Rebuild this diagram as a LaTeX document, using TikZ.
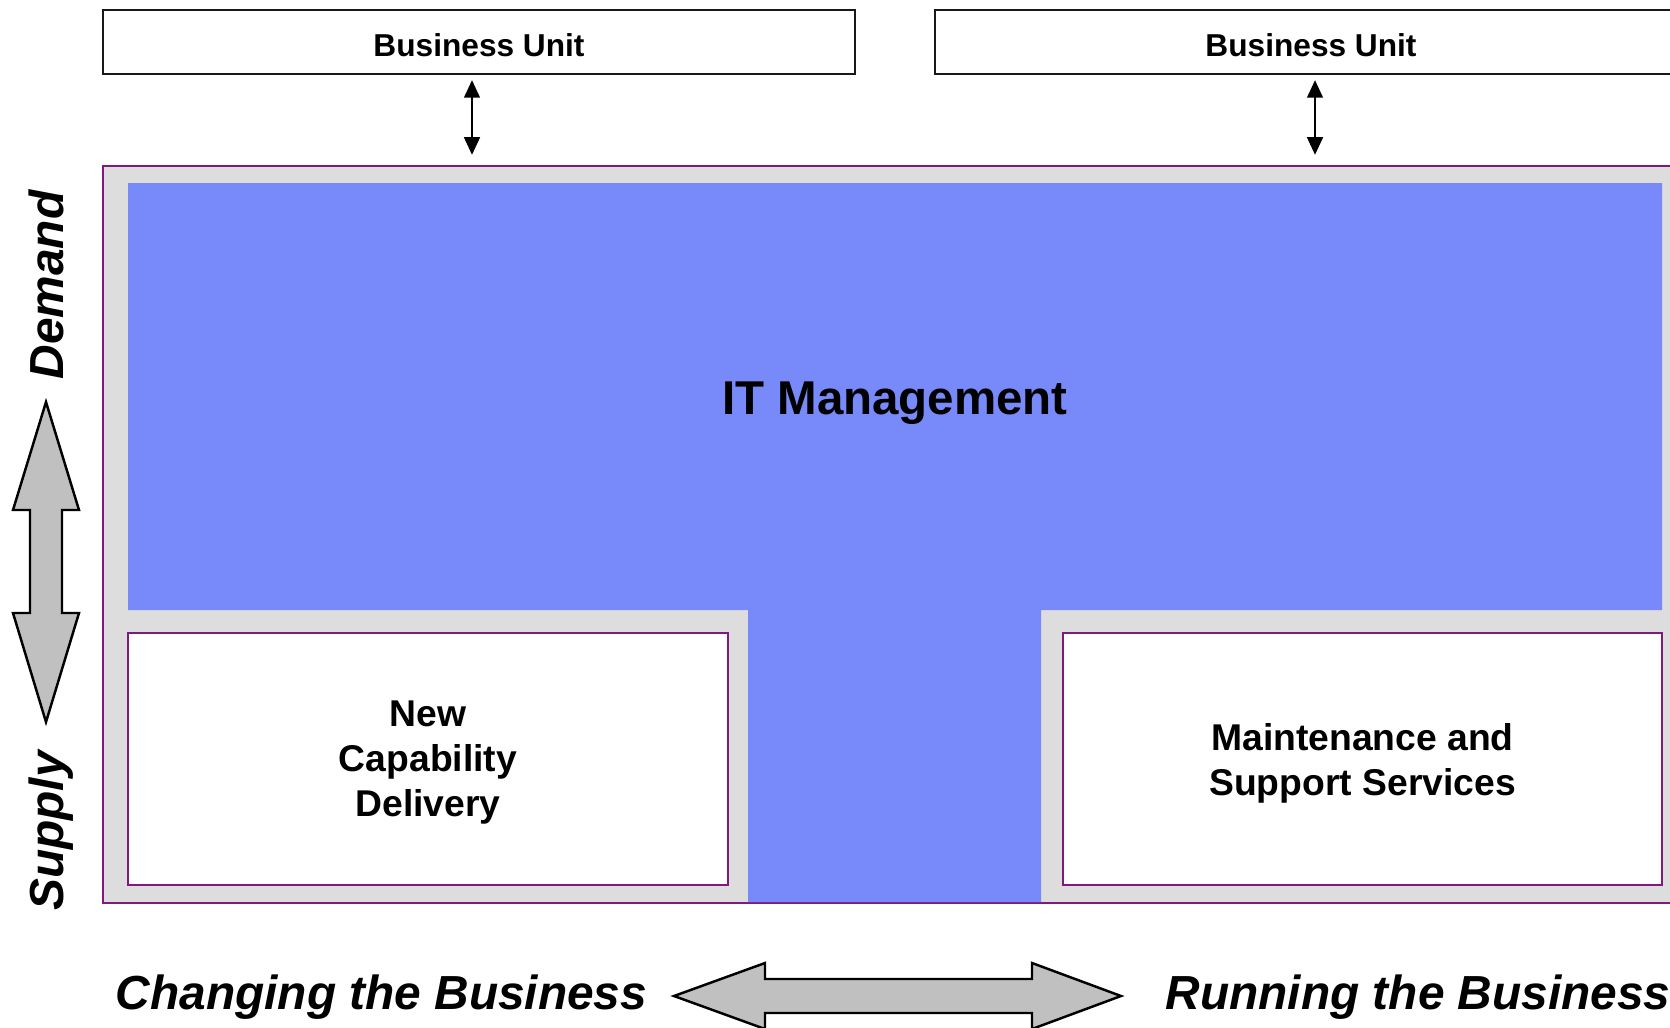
\documentclass[tikz,border=0pt]{standalone}
\usepackage{fontspec}
\setmainfont{Liberation Sans}
\usetikzlibrary{arrows.meta}

\definecolor{itblue}{RGB}{120,137,250}
\definecolor{framegray}{RGB}{221,221,221}
\definecolor{arrowgray}{RGB}{192,192,192}
\definecolor{framepurple}{RGB}{128,24,128}

\tikzset{
	unitbox/.style={draw=black!90, line width=0.65pt, fill=white, minimum width=7.52cm, minimum height=0.64cm, inner sep=0pt, text height=0.29cm, text depth=0pt, font=\fontsize{9}{11}\selectfont\bfseries},
	servicebox/.style={draw=framepurple, line width=0.6pt, fill=white, minimum height=2.52cm, inner sep=0pt, text depth=0pt, align=center, font=\fontsize{10.6}{12.8}\selectfont\bfseries},
	sidelabel/.style={inner sep=0pt, font=\fontsize{13.6}{16}\selectfont\bfseries\itshape},
	bigarrow/.style={fill=arrowgray, draw=black, line width=0.7pt},
}

\begin{document}
\begin{tikzpicture}[x=0.01cm, y=-0.01cm]
			\useasboundingbox (0,0) rectangle (1670,1027);
			%Business units
			\node[unitbox] (BU1) at (479,42) {Business Unit};
			\node[unitbox] (BU2) at (1311,42) {Business Unit};
			%Frame
			\node[draw=framepurple, fill=framegray, line width=0.55pt, minimum width=15.84cm, minimum height=7.37cm, inner sep=0pt] (frame) at (895,534.5) {};
			\draw[<->, >={Triangle[length=5pt,width=4.5pt]}, line width=0.55pt, shorten <=0.05cm, shorten >=0.1cm] ([xshift=-0.07cm]BU1.south) -- ([xshift=-0.07cm]BU1.south |- frame.north);
			\draw[<->, >={Triangle[length=5pt,width=4.5pt]}, line width=0.55pt, shorten <=0.05cm, shorten >=0.1cm] ([xshift=0.04cm]BU2.south) -- ([xshift=0.04cm]BU2.south |- frame.north);
			%IT Management
			\path[fill=itblue] (128,183) -- (1662,183) -- (1662,610) -- (1041,610) -- (1041,902) -- (748,902) -- (748,610) -- (128,610) -- cycle;
			\node[anchor=base, font=\fontsize{13.5}{16}\selectfont\bfseries] (IT) at (895,414) {IT Management};
			%Services
			\node[servicebox, minimum width=6cm] (NCD) at (428,759) {New\\Capability\\Delivery};
			\node[servicebox, minimum width=5.99cm] (MSS) at (1362.5,759) {Maintenance and\\Support Services};
			%Demand and supply
			\path[bigarrow] (46,402) -- (79,510) -- (62,510) -- (62,613) -- (79,613) -- (46,722) -- (13,613) -- (30,613) -- (30,510) -- (13,510) -- cycle;
			\node[sidelabel, rotate=90, anchor=base] (demand) at (63,285) {Demand};
			\node[sidelabel, rotate=90, anchor=base] (supply) at (63,831) {Supply};
			%Changing and running
			\path[bigarrow] (674,996) -- (765,963) -- (765,979) -- (1032,979) -- (1032,963) -- (1121,996) -- (1032,1029) -- (1032,1013) -- (765,1013) -- (765,1029) -- cycle;
			\node[sidelabel, anchor=base west] (changing) at (115,1009) {Changing the Business};
			\node[sidelabel, anchor=base west] (running) at (1165,1009) {Running the Business};
		\end{tikzpicture}
\end{document}
